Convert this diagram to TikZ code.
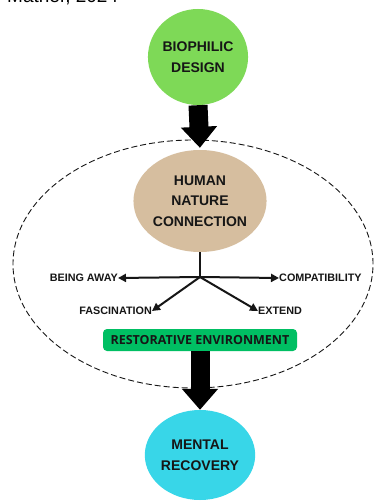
\documentclass[tikz,border=0pt]{standalone}
\usepackage{fontspec}
\setmainfont{Liberation Sans}
\newfontfamily\opensans{Open Sans}
\usetikzlibrary{arrows.meta,shapes.geometric}
\definecolor{biogreen}{HTML}{7ED957}
\definecolor{tan}{HTML}{D6BE9F}
\definecolor{restgreen}{HTML}{00BF63}
\definecolor{cyanfill}{HTML}{38D6E8}
\definecolor{ink}{HTML}{161616}
\begin{document}
\begin{tikzpicture}[x=1pt,y=-1pt,
  bubble/.style={ellipse, inner sep=0pt, align=center, text=ink,
    font=\bfseries\fontsize{14}{20.5}\selectfont},
  factor/.style={inner sep=0pt, text=ink, font=\bfseries\fontsize{10.8}{12}\selectfont},
  bigarrow/.style={line width=19pt, -{Triangle[width=35pt,length=21pt]}},
  thin arrow/.style={line width=2pt, ink, -{Triangle[width=8pt,length=8pt]}},
  zoneline/.style={draw=ink, line width=0.9pt, dash pattern=on 6pt off 3pt}]
\useasboundingbox (0,0) rectangle (375,502);
\fill[white] (0,0) rectangle (375,502);

% citation line, partly above the page edge
\node[anchor=base west, inner sep=0pt, font=\fontsize{19}{22}\selectfont] (cite) at (7,2.5) {Mather, 2024};

% dashed zone around the restorative process
\node[ellipse, zoneline, minimum width=360pt, minimum height=248pt] (zone) at (193,264) {};

% main stages
\node[bubble, fill=biogreen, minimum width=98pt, minimum height=96pt] (bio) at (198,57) {BIOPHILIC\\DESIGN};
\node[bubble, fill=tan, minimum width=124pt, minimum height=102pt] (hnc) at (200,201) {HUMAN\\NATURE\\CONNECTION};
\node[rounded corners=4pt, fill=restgreen, minimum width=194pt, minimum height=22pt, inner sep=0pt,
  text=ink, font=\opensans\bfseries\fontsize{12.5}{14}\selectfont] (rest) at (200,340) {RESTORATIVE ENVIRONMENT};
\node[bubble, fill=cyanfill, minimum width=108pt, minimum height=90pt] (mr) at (200,455) {MENTAL\\RECOVERY};

% block arrows between stages
\draw[bigarrow, shorten >=2pt] (bio.south) -- (hnc.north);
\draw[bigarrow] (rest.south) -- (mr.north);

% the four restorative qualities
\coordinate (j) at (200,277);
\node[factor, anchor=east] (away) at (118,278) {BEING AWAY};
\node[factor, anchor=west] (compat) at (279,278) {COMPATIBILITY};
\node[factor, anchor=east] (fasc) at (152,311) {FASCINATION};
\node[factor, anchor=west] (ext) at (258,311) {EXTEND};

\draw[line width=2pt, ink] (hnc.south) -- (j);
\draw[thin arrow] (j) -- (away.east);
\draw[thin arrow] (j) -- (compat.west);
\draw[thin arrow] (j) -- (fasc.east);
\draw[thin arrow] (j) -- (ext.west);
\end{tikzpicture}
\end{document}
